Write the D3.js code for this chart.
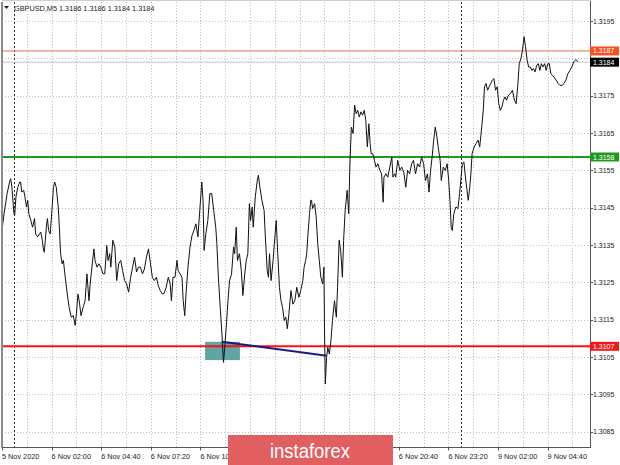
<!DOCTYPE html>
<html><head><meta charset="utf-8">
<script src="https://cdn.jsdelivr.net/npm/d3@7"></script>
<style>
body{margin:0;background:#fff}
svg{display:block}
text{font-family:"Liberation Sans",Arial,sans-serif}
</style></head><body>
<svg id="c" width="620" height="465"></svg>
<script>
// ---------- DATA ----------
const symbol = "GBPUSD,M5";
const ohlc = ["1.3186","1.3186","1.3184","1.3184"];

// M5 bar index (bar 0 = 5 Nov 23:20) and close price
const bars = [0.0,1.3,3.3,5.1,5.6,6.4,7.7,8.2,9.0,10.2,11.5,12.0,12.8,14.0,14.8,15.8,16.6,17.3,18.6,19.7,21.0,21.7,23.0,24.2,25.0,26.0,26.8,27.3,28.6,29.3,30.1,31.1,31.9,33.2,34.0,35.0,36.3,37.0,37.8,38.8,39.6,40.8,42.1,43.3,44.7,46.0,47.2,48.0,49.0,49.8,51.0,52.3,53.6,54.8,56.1,56.9,58.0,59.3,60.0,61.3,62.5,63.8,65.1,66.3,67.6,68.4,69.5,70.2,71.5,72.8,74.0,75.3,76.6,77.8,79.1,80.4,81.7,83.0,84.3,85.5,86.8,88.1,89.3,90.6,91.9,93.2,94.5,95.8,97.0,98.3,99.6,100.8,102.1,103.4,104.6,105.9,107.3,108.5,109.3,110.3,111.6,112.9,113.6,114.9,116.1,116.9,117.9,118.7,120.0,121.3,122.6,123.8,125.1,126.4,127.6,128.9,129.7,130.4,131.5,132.8,134.1,135.3,136.6,137.9,138.6,139.6,140.9,141.9,142.9,143.7,144.8,145.8,146.8,148.1,149.4,150.1,151.1,151.9,153.2,154.4,155.4,156.6,157.6,158.6,159.6,160.4,161.4,162.1,163.4,164.7,165.4,166.4,167.7,169.1,169.8,171.1,171.9,172.6,173.6,174.9,176.2,176.9,177.9,179.0,180.0,181.0,182.1,183.1,184.1,185.1,186.4,187.7,188.9,190.2,191.5,192.7,194.1,194.9,195.9,196.6,197.4,198.4,199.2,199.7,200.4,201.7,202.7,203.7,204.7,205.7,206.9,207.7,208.1,208.6,209.4,210.2,211.2,212.2,213.2,214.5,215.7,216.5,217.5,218.5,219.6,220.4,221.4,222.7,223.7,224.4,225.4,226.5,227.5,228.5,229.5,230.5,231.6,232.6,233.7,234.7,235.7,236.7,237.5,238.2,239.2,240.3,241.3,242.5,243.8,244.9,245.9,246.4,247.7,248.9,250.2,251.5,252.2,253.3,254.0,255.3,256.7,257.9,259.2,260.5,261.7,263.0,264.3,265.5,266.8,268.1,269.4,270.7,272.0,273.2,274.5,275.5,276.5,277.5,278.5,279.5,280.6,281.7,282.7,283.4,284.7,286.0,287.2,288.2,289.0,289.8,290.5,291.5,292.8,294.2,295.2,296.2,297.0,298.0,299.0,300.0,300.8,301.8,302.5,303.3,304.6,305.8,307.2,308.2,309.5,310.5,311.3,312.3,313.3,314.3,315.3,316.3,317.4,318.4,319.5,320.5,321.5,322.5,323.5,324.5,325.5,326.8,328.1,329.3,330.6,331.7,332.7,333.7,334.8,335.8,336.8,337.8,338.8,339.8,340.8,341.9,342.9,343.9,345.0,346.0,347.0,348.0,349.0,350.1,351.1,352.1,353.1,354.1,355.1,356.1,357.5,358.8,360.0,361.3,362.6,363.8,365.1,366.4,367.6,368.9,370.3,371.5];
const prices = [1.31389,1.31434,1.31488,1.31523,1.31528,1.31505,1.31434,1.31430,1.31479,1.31505,1.31519,1.31519,1.31492,1.31497,1.31479,1.31452,1.31470,1.31434,1.31416,1.31398,1.31421,1.31380,1.31372,1.31380,1.31385,1.31363,1.31336,1.31331,1.31398,1.31421,1.31389,1.31380,1.31425,1.31505,1.31519,1.31505,1.31452,1.31398,1.31327,1.31300,1.31309,1.31264,1.31219,1.31183,1.31157,1.31161,1.31135,1.31166,1.31219,1.31201,1.31161,1.31183,1.31201,1.31273,1.31201,1.31246,1.31291,1.31340,1.31309,1.31291,1.31300,1.31291,1.31273,1.31273,1.31349,1.31309,1.31327,1.31291,1.31363,1.31345,1.31255,1.31300,1.31309,1.31282,1.31255,1.31246,1.31224,1.31264,1.31291,1.31318,1.31278,1.31291,1.31291,1.31273,1.31286,1.31318,1.31340,1.31300,1.31264,1.31255,1.31264,1.31242,1.31228,1.31219,1.31221,1.31237,1.31264,1.31246,1.31201,1.31264,1.31264,1.31309,1.31282,1.31273,1.31264,1.31201,1.31161,1.31219,1.31291,1.31345,1.31376,1.31389,1.31407,1.31372,1.31443,1.31519,1.31470,1.31336,1.31380,1.31416,1.31488,1.31488,1.31443,1.31398,1.31354,1.31264,1.31175,1.31112,1.31036,1.31076,1.31139,1.31201,1.31255,1.31273,1.31345,1.31327,1.31398,1.31309,1.31327,1.31282,1.31215,1.31273,1.31309,1.31327,1.31461,1.31416,1.31452,1.31398,1.31479,1.31523,1.31537,1.31505,1.31470,1.31443,1.31380,1.31282,1.31264,1.31327,1.31255,1.31309,1.31380,1.31416,1.31327,1.31237,1.31201,1.31183,1.31148,1.31157,1.31126,1.31166,1.31228,1.31192,1.31201,1.31237,1.31210,1.31228,1.31255,1.31291,1.31309,1.31327,1.31380,1.31434,1.31470,1.31470,1.31448,1.31461,1.31425,1.31354,1.31309,1.31264,1.31246,1.31291,1.31112,1.30978,1.31049,1.31076,1.31058,1.31094,1.31148,1.31201,1.31157,1.31237,1.31363,1.31336,1.31264,1.31363,1.31443,1.31497,1.31434,1.31559,1.31666,1.31649,1.31725,1.31702,1.31711,1.31693,1.31707,1.31698,1.31711,1.31684,1.31613,1.31675,1.31622,1.31595,1.31595,1.31577,1.31559,1.31568,1.31550,1.31541,1.31465,1.31532,1.31541,1.31532,1.31559,1.31586,1.31532,1.31541,1.31532,1.31577,1.31550,1.31559,1.31546,1.31505,1.31550,1.31541,1.31568,1.31577,1.31541,1.31568,1.31559,1.31586,1.31568,1.31523,1.31541,1.31492,1.31550,1.31586,1.31631,1.31666,1.31640,1.31604,1.31577,1.31523,1.31559,1.31550,1.31568,1.31523,1.31470,1.31398,1.31389,1.31434,1.31452,1.31448,1.31488,1.31532,1.31568,1.31573,1.31532,1.31497,1.31470,1.31505,1.31541,1.31595,1.31613,1.31622,1.31631,1.31613,1.31666,1.31711,1.31774,1.31783,1.31765,1.31774,1.31783,1.31792,1.31796,1.31765,1.31774,1.31729,1.31711,1.31720,1.31738,1.31747,1.31738,1.31752,1.31756,1.31765,1.31738,1.31729,1.31774,1.31836,1.31850,1.31872,1.31908,1.31881,1.31845,1.31827,1.31827,1.31818,1.31823,1.31814,1.31832,1.31836,1.31818,1.31836,1.31827,1.31836,1.31818,1.31836,1.31836,1.31809,1.31805,1.31800,1.31792,1.31783,1.31778,1.31778,1.31783,1.31792,1.31809,1.31818,1.31827,1.31841,1.31847,1.31841];

const priceTicks = [1.3195,1.3185,1.3175,1.3165,1.3155,1.3145,1.3135,1.3125,1.3115,1.3105,1.3095,1.3085];
const priceTickLabels = ["1.3195","","1.3175","1.3165","1.3155","1.3145","1.3135","1.3125","1.3115","1.3105","1.3095","1.3085"];
const timeTickBars = [0,32,64,96,128,256,288,320,352];
const timeTickLabels = ["5 Nov 2020","6 Nov 02:00","6 Nov 04:40","6 Nov 07:20","6 Nov 10:00","6 Nov 20:40","6 Nov 23:20","9 Nov 02:00","9 Nov 04:40"];
const daySeparatorBars = [8, 296];

const levelPrices = [1.31870, 1.31586, 1.31079];
const levelLabels = ["1.3187", "1.3158", "1.3107"];
const bidPrice = 1.31840;
const bidLabel = "1.3184";

const zoneBars = [131, 153.5];
const zonePrices = [1.31091, 1.31042];
const trendBars = [141.7, 209.5];
const trendPrices = [1.31091, 1.31054];

// ---------- LAYOUT ----------
const L = 2, R = 590, T = 2, B = 447.5;
const svg = d3.select("#c");
const x = d3.scaleLinear().domain([0, (R - L) / 1.55]).range([L, R]);
const y = d3.scaleLinear().domain([1.3085, 1.3195]).range([431.8, 21.1]);

const levelStyle = [
  {line:"#f26a4a", w:1, box:"#f2501e"},
  {line:"#1e9a1e", w:2, box:"#1e9a1e"},
  {line:"#ff1010", w:2, box:"#f01818"}
];

svg.append("defs").append("clipPath").attr("id","plot")
  .append("rect").attr("x",L).attr("y",T).attr("width",R-L).attr("height",B-T);

const g = svg.append("g").attr("clip-path","url(#plot)");

// grid
g.selectAll(".vg").data(d3.range(16, 380, 16)).enter().append("line")
  .attr("x1", d=>Math.round(x(d))+0.5).attr("x2", d=>Math.round(x(d))+0.5)
  .attr("y1", T).attr("y2", B)
  .attr("stroke","#bdbdbd").attr("stroke-width",1).attr("stroke-dasharray","1,2");
g.selectAll(".hg").data(priceTicks).enter().append("line")
  .attr("x1", L).attr("x2", R)
  .attr("y1", d=>Math.round(y(d))+0.5).attr("y2", d=>Math.round(y(d))+0.5)
  .attr("stroke","#bdbdbd").attr("stroke-width",1).attr("stroke-dasharray","1,2");
// day separators
g.selectAll(".sep").data(daySeparatorBars).enter().append("line")
  .attr("x1", d=>Math.round(x(d))+0.5).attr("x2", d=>Math.round(x(d))+0.5)
  .attr("y1", T).attr("y2", B)
  .attr("stroke","#303030").attr("stroke-width",1).attr("stroke-dasharray","2,2");

// zone rectangle
g.append("rect")
  .attr("x", x(zoneBars[0])).attr("width", x(zoneBars[1]) - x(zoneBars[0]))
  .attr("y", y(zonePrices[0])).attr("height", y(zonePrices[1]) - y(zonePrices[0]))
  .attr("fill","#4f9a9a").attr("opacity",0.9);

// bid line
g.append("line").attr("x1",L).attr("x2",R)
  .attr("y1", y(bidPrice)).attr("y2", y(bidPrice))
  .attr("stroke","#c4c4c4").attr("stroke-width",1);

// level lines
g.selectAll(".lvl").data(levelPrices).enter().append("line")
  .attr("x1",L).attr("x2",R)
  .attr("y1", d=>y(d)).attr("y2", d=>y(d))
  .attr("stroke",(d,i)=>levelStyle[i].line).attr("stroke-width",(d,i)=>levelStyle[i].w);

// price line
const pts = bars.map((b,i)=>[b, prices[i]]);
g.append("path").datum(pts)
  .attr("d", d3.line().x(d=>x(d[0])).y(d=>y(d[1])))
  .attr("fill","none").attr("stroke","#111").attr("stroke-width",1);

// trend line
g.append("line")
  .attr("x1", x(trendBars[0])).attr("y1", y(trendPrices[0]))
  .attr("x2", x(trendBars[1])).attr("y2", y(trendPrices[1]))
  .attr("stroke","#1c1c80").attr("stroke-width",2);

// frame
svg.append("line").attr("x1",L).attr("x2",L).attr("y1",T).attr("y2",B).attr("stroke","#8a8a8a").attr("stroke-width",2);
svg.append("line").attr("x1",R+0.5).attr("x2",R+0.5).attr("y1",0).attr("y2",B).attr("stroke","#555").attr("stroke-width",1);
svg.append("line").attr("x1",L).attr("x2",R+1).attr("y1",B).attr("y2",B).attr("stroke","#555").attr("stroke-width",1);
svg.append("line").attr("x1",L).attr("x2",R+1).attr("y1",0.5).attr("y2",0.5).attr("stroke","#cfcfcf").attr("stroke-width",1);

// y axis labels & ticks
svg.selectAll(".yt").data(priceTicks.filter((d,i)=>priceTickLabels[i])).enter().append("line")
  .attr("x1",R).attr("x2",R+3).attr("y1",d=>Math.round(y(d))+0.5).attr("y2",d=>Math.round(y(d))+0.5)
  .attr("stroke","#555");
svg.selectAll(".yl").data(priceTicks).enter().append("text")
  .attr("x", 593).attr("y", d=>y(d)+2.5)
  .attr("font-size","7px").attr("fill","#222")
  .text((d,i)=>priceTickLabels[i]);

// level label boxes
function tag(price, label, fill){
  const yy = y(price);
  svg.append("rect").attr("x",590).attr("y",yy-4.5).attr("width",29).attr("height",9).attr("fill",fill);
  svg.append("text").attr("x",593).attr("y",yy+2.5).attr("font-size","7px").attr("fill","#fff").text(label);
}
levelPrices.forEach((p,i)=>tag(p, levelLabels[i], levelStyle[i].box));
tag(bidPrice, bidLabel, "#000");

// x axis labels
svg.selectAll(".xt").data(timeTickBars).enter().append("line")
  .attr("x1",d=>Math.round(x(d))+0.5).attr("x2",d=>Math.round(x(d))+0.5)
  .attr("y1",B).attr("y2",B+3).attr("stroke","#555");
svg.selectAll(".xl").data(timeTickBars).enter().append("text")
  .attr("x", d=>x(d)).attr("y", 459)
  .attr("font-size","7.3px").attr("fill","#222")
  .text((d,i)=>timeTickLabels[i]);

// title
svg.append("path").attr("d","M4,6 L9,6 L6.5,9 Z").attr("fill","#222");
svg.append("text").attr("x",14).attr("y",10.5).attr("font-size","7.3px").attr("fill","#222")
  .text(symbol + " " + ohlc.join(" "));

// watermark logo
svg.append("rect").attr("x",228).attr("y",435).attr("width",165).attr("height",30).attr("fill","#e15e61");
svg.append("text").attr("x",310).attr("y",458).attr("text-anchor","middle")
  .attr("font-family","'Open Sans', sans-serif").attr("font-weight",300)
  .attr("font-size","20px").attr("fill","#fff")
  .attr("textLength",80).attr("lengthAdjust","spacingAndGlyphs")
  .text("instaforex");
</script>
</body></html>
